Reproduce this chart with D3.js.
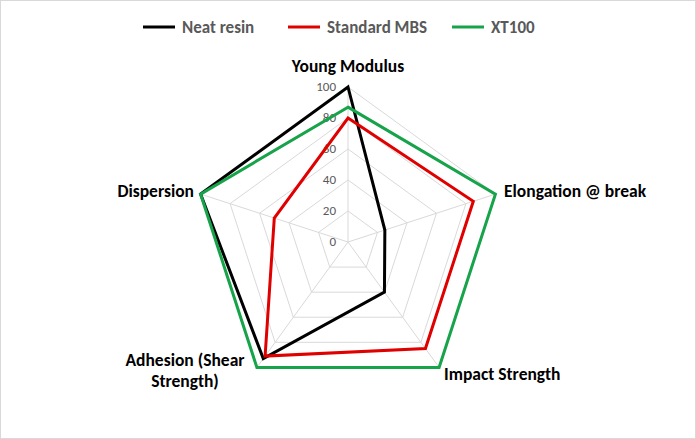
<!DOCTYPE html>
<html><head><meta charset="utf-8">
<script src="https://cdn.jsdelivr.net/npm/d3@7"></script>
<style>body{margin:0;background:#fff}text{font-family:Calibri,Carlito,"Liberation Sans",sans-serif}</style>
</head><body>
<svg width="696" height="439"></svg>
<script>
const axes = ["Young Modulus", "Elongation @ break", "Impact Strength", "Adhesion (Shear\nStrength)", "Dispersion"];
const neatResin = [100, 25, 40, 93, 100];
const standardMBS = [80, 85, 85, 91, 50];
const xt100 = [87, 100, 100, 100, 100];
const ticks = [0, 20, 40, 60, 80, 100];
const series = [
  {name: "Neat resin", values: neatResin, color: "#000000"},
  {name: "Standard MBS", values: standardMBS, color: "#e00000"},
  {name: "XT100", values: xt100, color: "#16a34a"}
];

const svg = d3.select("svg");
svg.append("rect").attr("x", 0.5).attr("y", 0.5).attr("width", 695).attr("height", 438)
  .attr("fill", "#fff").attr("stroke", "#d9d9d9");
const cx = 348, cy = 242;
const r = d3.scaleLinear().domain([0, 100]).range([0, 155]);
const ang = i => -Math.PI / 2 + i * 2 * Math.PI / axes.length;
const pt = (v, i) => [cx + r(v) * Math.cos(ang(i)), cy + r(v) * Math.sin(ang(i))];
const line = d3.line().curve(d3.curveLinearClosed);

const g = svg.append("g");
ticks.slice(1).forEach(t => {
  g.append("path").attr("d", line(axes.map((a, i) => pt(t, i))))
    .attr("fill", "none").attr("stroke", "#d9d9d9");
});
axes.forEach((a, i) => {
  const [x, y] = pt(100, i);
  g.append("line").attr("x1", cx).attr("y1", cy).attr("x2", x).attr("y2", y).attr("stroke", "#d9d9d9");
});
ticks.forEach(t => {
  g.append("text").attr("x", cx - 12).attr("y", cy - r(t) + 4).attr("text-anchor", "end")
    .attr("font-size", 13).attr("fill", "#595959").text(t);
});

series.forEach(s => {
  g.append("path").attr("d", line(s.values.map((v, i) => pt(v, i))))
    .attr("fill", "none").attr("stroke", s.color).attr("stroke-width", 3).attr("stroke-linejoin", "miter");
});

const labelPos = [
  {x: 348, y: 72, anchor: "middle"},
  {x: 504, y: 197, anchor: "start"},
  {x: 444, y: 380, anchor: "start"},
  {x: 185, y: 366, anchor: "middle"},
  {x: 194, y: 197, anchor: "end"}
];
axes.forEach((a, i) => {
  const p = labelPos[i];
  const t = g.append("text").attr("x", p.x).attr("y", p.y).attr("text-anchor", p.anchor)
    .attr("font-size", 17.5).attr("font-weight", "bold").attr("fill", "#000");
  a.split("\n").forEach((l, k) => t.append("tspan").attr("x", p.x).attr("dy", k ? 21 : 0).text(l));
});

const legX = [143, 288, 452];
series.forEach((s, i) => {
  const lg = svg.append("g").attr("transform", `translate(${legX[i]},27)`);
  lg.append("line").attr("x1", 0).attr("x2", 32).attr("stroke", s.color).attr("stroke-width", 3);
  lg.append("text").attr("x", 39).attr("y", 6).attr("font-size", 17).attr("font-weight", "bold")
    .attr("fill", "#595959").text(s.name);
});
</script>
</body></html>
